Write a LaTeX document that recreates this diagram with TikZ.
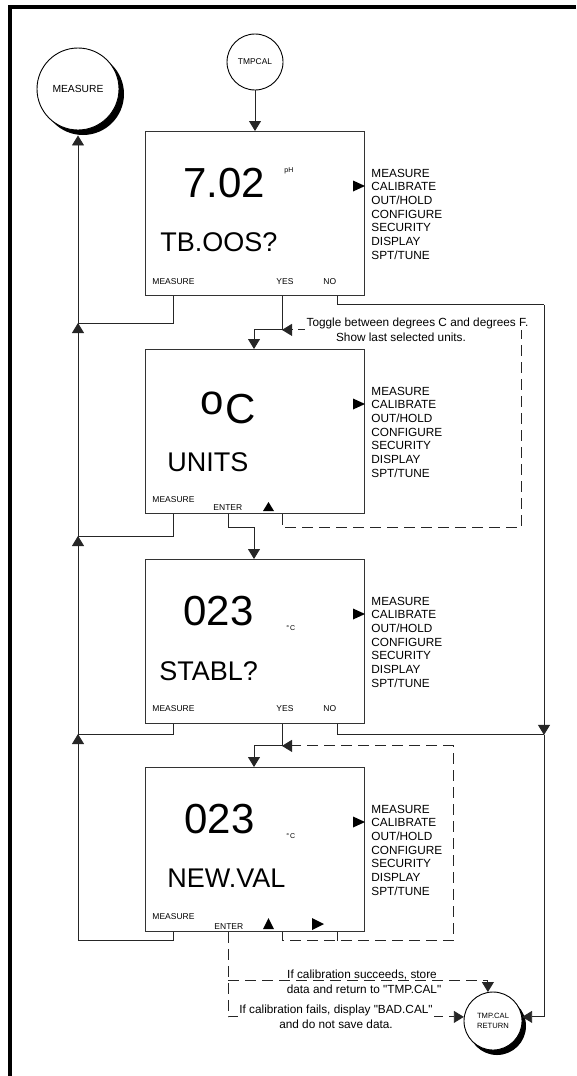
\documentclass[tikz,border=0pt]{standalone}
\usepackage{fontspec}
\setmainfont{Liberation Sans}[Ligatures=TeXOff]
\usetikzlibrary{arrows.meta,calc}
\begin{document}
\begin{tikzpicture}[x=1pt,y=-1pt,
  line width=0.9pt, draw=black!85,
  box/.style={draw=black!80, line width=0.9pt, minimum width=219pt, minimum height=164pt, anchor=north west, inner sep=0pt},
  tip/.style={-{Triangle[width=12pt,length=10pt]}},
  dsh/.style={dash pattern=on 11pt off 6pt},
  big/.style={font=\fontsize{42}{42}\selectfont, anchor=base west, inner sep=0pt},
  word/.style={font=\fontsize{27}{27}\selectfont, anchor=base west, inner sep=0pt},
  key/.style={font=\fontsize{8.5}{8.5}\selectfont, anchor=base west, inner sep=0pt},
  menu/.style={font=\fontsize{11.8}{11.8}\selectfont, anchor=base west, inner sep=0pt},
  unit/.style={font=\fontsize{7}{7}\selectfont, anchor=base west, inner sep=0pt},
  note/.style={font=\fontsize{11.8}{11.8}\selectfont, anchor=base, inner sep=1.5pt}
]
\useasboundingbox (0,0) rectangle (576,1076);
% frame
\draw[line width=4.6pt, draw=black, line join=miter] (10,1076) -- (10,7) -- (576,7);

% circles
\node[circle, fill=black, minimum size=82pt, inner sep=0pt] (msh) at (83,94) {};
\node[circle, draw=black, fill=white, minimum size=82pt, inner sep=0pt, font=\fontsize{10.3}{10.3}\selectfont] (meas) at (78,89) {MEASURE};
\node[circle, draw=black, fill=white, minimum size=56pt, inner sep=0pt, font=\fontsize{8.4}{8.4}\selectfont] (tmp) at (255,62) {TMPCAL};
\node[circle, fill=black, minimum size=58pt, inner sep=0pt] (rsh) at (497,1026) {};
\node[circle, draw=black, fill=white, minimum size=58pt, inner sep=0pt, align=center, font=\fontsize{7.6}{10.5}\selectfont] (ret) at (493,1021) {TMP.CAL\\RETURN};

% boxes
\node[box] (b1) at (145,131) {};
\node[box] (b2) at (145,349) {};
\node[box] (b3) at (145,559) {};
\node[box] (b4) at (145,767) {};

% menus
\foreach \T [count=\k] in {131,349,559,767} {
  \foreach \t [count=\i from 0] in {MEASURE,CALIBRATE,OUT/HOLD,CONFIGURE,SECURITY,DISPLAY,SPT/TUNE}
    \node[menu] (menu\k-\i) at (371,\T+46+\i*13.7) {\t};
  \fill (353,\T+49.5) -- (365,\T+55) -- (353,\T+60.5) -- cycle;
}

% box 1 contents
\node[big] (v1) at (183,197) {7.02};
\node[unit] (u1) at (284,172) {pH};
\node[word] (w1) at (160,251) {TB.OOS?};
\node[key] (k1m) at (152,284) {MEASURE};
\node[key] (k1y) at (276,284) {YES};
\node[key] (k1n) at (323,284) {NO};

% box 2 contents
\node[big] (v2) at (200,423) {\raisebox{8.2pt}{o}\kern1.5pt C};
\node[word] (w2) at (167,471) {UNITS};
\node[key] (k2m) at (152,502) {MEASURE};
\node[key] (k2e) at (213,510) {ENTER};
\fill (263,511) -- (274,511) -- (268.5,502) -- cycle;

% box 3 contents
\node[big] (v3) at (183,625) {023};
\node[unit] (u3) at (286,630) {°\kern1pt C};
\node[word] (w3) at (159,680) {STABL?};
\node[key] (k3m) at (152,711) {MEASURE};
\node[key] (k3y) at (276,711) {YES};
\node[key] (k3n) at (323,711) {NO};

% box 4 contents
\node[big] (v4) at (184,833) {023};
\node[unit] (u4) at (286,838) {°\kern1pt C};
\node[word] (w4) at (167,887) {NEW.VAL};
\node[key] (k4m) at (152,919) {MEASURE};
\node[key] (k4e) at (214,929) {ENTER};
\fill (263,929) -- (274,929) -- (268.5,918) -- cycle;
\fill (312,918) -- (324,924) -- (312,930) -- cycle;

% connection points
\foreach \b in {b1,b2,b3,b4} {
  \coordinate (\b m) at ($(\b.south west)+(28,0)$);
  \coordinate (\b y) at ($(\b.south west)+(137,0)$);
  \coordinate (\b n) at ($(\b.south west)+(192,0)$);
  \coordinate (\b e) at ($(\b.south west)+(83,0)$);
  \coordinate (\b i) at ($(\b.north west)+(109,0)$);
}
\coordinate (j1) at (78,323);
\coordinate (j2) at (78,536);
\coordinate (j3) at (78,734);
\coordinate (j4) at (78,940);
\coordinate (t1) at ($(b1y)+(0,34)$);
\coordinate (t3) at ($(b3y)+(0,22)$);
\coordinate (c1) at ($(b1n)+(207,9)$);
\coordinate (c3) at ($(b3n)+(207,11)$);

% TMPCAL into box 1
\draw[tip] (tmp.south) -- (tmp.south |- b1.north);

% MEASURE returns
\draw (b1m) |- (j1);
\draw (b2m) |- (j2);
\draw (b3m) |- (j3);
\draw (b4m) |- (j4);
\draw[tip] (j4) -- (j3);
\draw[tip] (j3) -- (j2);
\draw[tip] (j2) -- (j1);
\draw[tip] (j1) -- (j1 |- msh.south);

% forward paths
\draw[tip] (b1y) -- (t1) -| (b2i);
\draw[tip] (b2e) -- ++(0,14) -| (b3i);
\draw[tip] (b3y) -- (t3) -| (b4i);

% NO paths
\draw (b1n) |- (c1);
\draw[tip] (c1) -- (c3);
\draw (b3n) |- (c3);
\draw[tip] (c3) |- (ret.8);

% dashed loops
\draw[dsh,tip] (b2y) -- ++(0,14) -| ($(t1)+(239,0)$) -- (t1);
\draw[dsh,tip] (b4y) -- ++(0,9) -| ($(t3)+(171,0)$) -- (t3);
\draw (b4n) -- ++(0,9);

% ENTER from box 4
\draw[dsh,tip] (b4e) |- (ret.172);
\draw[dsh,tip] ($(b4e)+(0,49)$) -| (ret.100);

% notes
\node[note, fill=white] (tg1) at (417.5,326) {Toggle between degrees C and degrees F.};
\node[note, fill=white] (tg2) at (401,341) {Show last selected units.};
\node[note] (cs1) at (362,978) {If calibration succeeds, store};
\node[note] (cs2) at (364,993) {data and return to "TMP.CAL"};
\node[note, fill=white, inner ysep=3pt] (cf1) at (336,1013) {If calibration fails, display "BAD.CAL"};
\node[note] (cf2) at (336,1028) {and do not save data.};
\end{tikzpicture}
\end{document}
